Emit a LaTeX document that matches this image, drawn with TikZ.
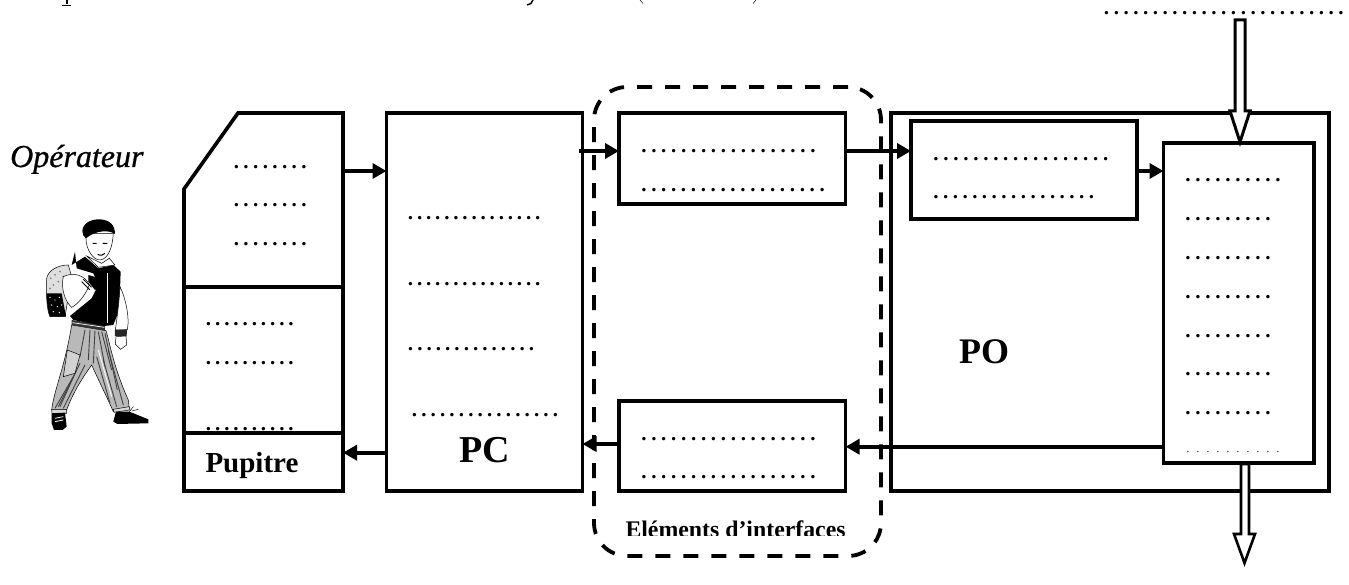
\documentclass[tikz,border=0pt]{standalone}
\usepackage{fontspec}
\setmainfont{Liberation Serif}
\newfontfamily\opfont[FakeBold=0.8]{Liberation Serif Italic}
\usetikzlibrary{arrows.meta,calc}
\newcommand\dl[2]{\foreach\i in{1,...,#1}{\makebox[#2pt]{.}}}
\newcommand\dotrow[5]{\node[dotstyle] (#1) at ({#2-#5/2},{#3+1.3}) {\dl{#4}{#5}};}
\tikzset{
  dotstyle/.style={anchor=base west,inner sep=0pt,outer sep=0pt,font=\fontsize{21}{21}\bfseries\selectfont},
  bx/.style={draw=black,line width=3.6pt,inner sep=0pt,outer sep=0pt,minimum width=#1},
  bx/.default=10pt,
  lab/.style={anchor=base west,inner sep=0pt,outer sep=0pt,font=\fontsize{#1}{#1}\bfseries\selectfont},
  flow/.style={line width=3.8pt,-{Triangle[length=14pt,width=15pt]}},
  hollowa/.style={draw=black,fill=white,line width=3pt,miter limit=10},
  boyline/.style={line width=0.5pt,draw=black}
}
\begin{document}
\begin{tikzpicture}[x=1pt,y=-1pt]
\useasboundingbox (0,0) rectangle (1349,585);
\fill[white] (0,0) rectangle (1349,585);
% clipped remains of the line above
\fill (65.5,0) rectangle (68,4.5); \draw[line width=0.9pt] (62,5) -- (71,5);
\draw[line width=1.4pt] (533,0) .. controls (532,3) and (530,5) .. (527,5);
\draw[line width=0.5pt] (640,0) -- (643,3.5);
\draw[line width=0.5pt] (756,0) -- (753,3.5);
% top dots
\dotrow{topd}{1106.6}{13}{25}{9.77}
% Boxes
\node[minimum width=159pt,minimum height=320pt,inner sep=0pt,outer sep=0pt] (panel) at (263.5,273) {};
\draw[line width=3.6pt,line join=miter] (343,113) -- (238,113) -- (184,189) -- (184,433) (343,111.2) -- (343,433) (184,287) -- (343,287);
\node[bx=159pt,minimum height=58pt] (pup) at (263.5,462) {};
\node[bx=196pt,minimum height=378pt] (pc) at (484.5,302) {};
\node[bx=226.6pt,minimum height=91pt] (ifa) at (732.3,158.5) {};
\node[bx=226.6pt,minimum height=90pt] (ifb) at (732.3,446) {};
\node[bx=438pt,minimum height=378pt] (po) at (1110,302) {};
\node[bx=226pt,minimum height=98pt] (poa) at (1024,170) {};
\node[bx=150.5pt,minimum height=320pt] (poc) at (1238.75,303) {};
\node[draw=black,line width=3.8pt,rounded corners=33pt,dash pattern=on 15pt off 13pt,minimum width=287pt,minimum height=469pt,inner sep=0pt,outer sep=0pt] (ifc) at (737.5,321.5) {};
% Dots
\dotrow{d1}{236.5}{167}{8}{9.63}
\dotrow{d2}{236.5}{205}{8}{9.63}
\dotrow{d3}{236.5}{244}{8}{9.63}
\dotrow{d4}{208.6}{324}{10}{9.17}
\dotrow{d5}{208.6}{363}{10}{9.17}
\dotrow{d6}{208.6}{429}{10}{9.17}
\dotrow{d7}{410.6}{218}{15}{9.08}
\dotrow{d8}{410.6}{284}{15}{9.08}
\dotrow{d9}{410.6}{349}{14}{9.3}
\dotrow{d10}{414.5}{415}{16}{9.4}
\dotrow{d11}{644}{151}{18}{9.94}
\dotrow{d12}{644}{190}{19}{9.9}
\dotrow{d13}{644}{439}{18}{9.94}
\dotrow{d14}{644}{477}{18}{9.94}
\dotrow{d15}{936}{159}{18}{9.98}
\dotrow{d16}{936}{197}{17}{9.72}
\dotrow{d17}{1188}{180}{10}{10}
\dotrow{d18}{1188}{219}{9}{10}
\dotrow{d19}{1188}{258}{9}{10}
\dotrow{d20}{1188}{297}{9}{10}
\dotrow{d21}{1188}{336}{9}{10}
\dotrow{d22}{1188}{374}{9}{10}
\dotrow{d23}{1188}{413}{9}{10}
\node[dotstyle,font=\fontsize{11}{11}\selectfont] (d24) at (1183,452) {\dl{10}{10}};
% Labels
\node[lab=38] (pclab) at (459,462) {PC};
\node[lab=36] (polab) at (959,363) {PO};
\node[lab=29] (puplab) at (205.5,472) {Pupitre};
\node[anchor=base west,inner sep=0pt,font=\fontsize{32}{32}\opfont] (oplab) at (10,167) {Opérateur};
\begin{scope}
\clip (600,510) rectangle (870,535);
\node[lab=23.8] (iflab) at (625.5,537.5) {Eléments d’interfaces};
\end{scope}
% Arrows
\draw[flow] (panel.east |- 0,171) -- (pc.west |- 0,171);
\draw[flow] (pc.west |- 0,452.7) -- (pup.east |- 0,452.7);
\draw[flow] (579,151) -- (ifa.west |- 0,151);
\draw[flow] (ifa.east |- 0,151) -- (poa.west |- 0,151);
\draw[flow] (poa.east |- 0,171) -- (poc.west |- 0,171);
\draw[flow] (poc.west |- 0,446.7) -- (ifb.east |- 0,446.7);
\draw[flow] (ifb.west |- 0,444) -- (pc.east |- 0,444);
% Hollow arrows
\coordinate (intop) at (1240,20);
\coordinate (outtip) at (1244.5,563);
\draw[hollowa] ($(intop)+(-5,0)$) -- ($(intop)+(5,0)$) -- (1245,111) -- (1250,111) -- (1240,142) -- (1230,111) -- (1235,111) -- cycle;
\draw[hollowa,line width=2.6pt] (1241,464) -- (1249,464) -- (1249,534) -- (1255,534) -- (outtip) -- (1234,534) -- (1241,534) -- cycle;
% Boy
\begin{scope}[shift={(30,210)},x=0.3333pt,y=-0.3333pt]
 % backpack
 \draw[boyline,fill=gray!25] (50,205) .. controls (55,180) and (85,165) .. (115,165) -- (125,200) -- (105,320) -- (60,320) .. controls (50,300) and (48,250) .. (50,205) -- cycle;
 \fill[black] (50,250) -- (95,250) -- (108,320) -- (60,320) .. controls (52,300) and (50,270) .. (50,250) -- cycle;
 \foreach \a/\b in {60/262,75/270,88/262,65/285,82/290,95/285,70/305,88/308}{\fill[white] (\a,\b) circle (2.2);}
 \foreach \a/\b in {62/205,75/195,90/185,70/225,85/215,100/200,60/235}{\fill[gray] (\a,\b) circle (3);}
 % trousers
 \draw[boyline,fill=gray!55] (125,345) -- (228,362) .. controls (240,400) and (250,470) .. (295,570) -- (298,597) -- (250,605) .. controls (235,570) and (210,520) .. (185,465) .. controls (160,500) and (130,545) .. (110,600) -- (65,600) .. controls (72,540) and (105,470) .. (125,345) -- cycle;
 \foreach \a/\b/\c/\d in {165/360/150/440,180/360/175/450,195/362/190/460,205/365/225/470,215/365/245/480,225/370/262/540,235/420/280/585,220/450/260/590,150/460/85/590,165/465/100/595,130/500/75/595,200/440/240/580,140/480/90/590}{\draw[line width=0.9pt,black!75] (\a,\b) -- (\c,\d);}
 \draw[white,line width=0.9pt] (205,420) -- (245,560);
 \draw[boyline,fill=gray!35] (112,420) -- (150,435) -- (135,490) -- (100,500) -- cycle;
 % waist
 \fill[black!80] (125,330) -- (225,345) -- (225,362) -- (125,345) -- cycle;
 \draw[white,line width=0.7pt] (127,338) -- (223,352);
 % jacket
 \fill[black] (135,125) -- (125,165) -- (165,140) -- (205,175) -- (250,165) -- (272,185) -- (268,300) -- (250,345) -- (222,348) -- (130,330) -- (120,318) -- (185,265) -- (205,225) -- (190,190) -- (140,175) -- cycle;
 \draw[white,line width=1pt] (232,190) -- (232,340);
 % left arm
 \draw[boyline,fill=white] (100,200) .. controls (130,185) and (165,195) .. (178,225) .. controls (165,260) and (140,285) .. (125,292) .. controls (105,275) and (92,235) .. (100,200) -- cycle;
 \draw[line width=0.8pt] (155,215) -- (180,240) (160,208) -- (185,232);
 \fill[black] (175,195) -- (210,205) -- (215,225) -- (195,240) -- (175,215) -- cycle;
 % right sleeve
 \draw[boyline,fill=white] (270,230) .. controls (285,260) and (300,320) .. (292,360) -- (256,360) .. controls (262,320) and (268,270) .. (270,230) -- cycle;
 \fill[black!85] (255,360) -- (291,358) -- (290,378) -- (255,378) -- cycle;
 \draw[boyline,fill=white] (258,380) -- (288,378) -- (290,405) -- (272,418) -- (256,402) -- cycle;
 % collar
 \draw[boyline,fill=white] (170,138) -- (205,172) -- (255,165) -- (238,145) -- (215,160) -- cycle;
 % face
 \draw[boyline,fill=white] (168,85) .. controls (168,120) and (190,150) .. (210,150) .. controls (235,148) and (248,110) .. (250,70) -- (165,70) -- cycle;
 \draw[line width=1pt] (188,100) -- (200,100) (218,100) -- (232,100) (203,133) .. controls (212,138) and (220,136) .. (225,130);
 % cap
 \fill[black] (157,62) .. controls (160,35) and (190,27) .. (210,28) .. controls (240,30) and (255,45) .. (255,72) .. controls (235,58) and (195,62) .. (168,85) .. controls (160,80) and (157,72) .. (157,62) -- cycle;
 % shoes
 \draw[boyline,fill=gray!30] (65,598) -- (110,598) -- (110,610) -- (66,610) -- cycle;
 \fill[black] (65,610) -- (105,608) -- (110,650) -- (98,660) -- (72,660) -- (65,640) -- cycle;
 \draw[white,line width=0.8pt] (75,625) -- (100,620) (75,635) -- (100,630);
 \draw[boyline,fill=gray!30] (250,598) -- (298,590) -- (300,600) -- (252,607) -- cycle;
 \fill[black] (250,635) -- (258,605) -- (298,605) -- (355,628) -- (355,640) -- (262,642) -- cycle;
 \draw[line width=0.5pt] (298,605) -- (310,590) (305,603) -- (325,598);
\end{scope}
\end{tikzpicture}
\end{document}
